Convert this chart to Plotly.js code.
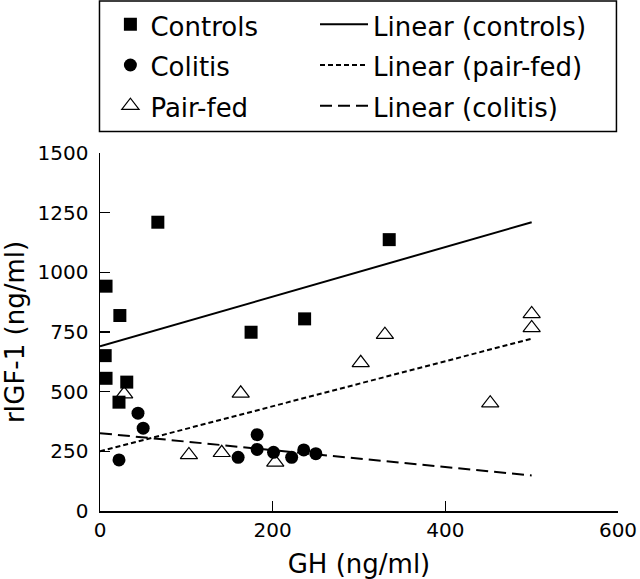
<!DOCTYPE html>
<html>
<head>
<meta charset="utf-8">
<script src="https://cdn.plot.ly/plotly-3.0.1.min.js"></script>
<style>html,body{margin:0;padding:0;background:#fff;}#chart{width:640px;height:579px;}</style>
</head>
<body>
<div id="chart"></div>
<script>
// Data
const controlsGH  = [7, 67, 23, 175, 237, 335, 6, 7, 31, 22];
const controlsIGF = [942, 1210, 819, 749, 805, 1137, 651, 556, 540, 456];

const colitisGH  = [22, 44, 50, 160, 182, 182, 201, 222, 236, 250];
const colitisIGF = [214, 410, 347, 225, 320, 258, 246, 225, 256, 240];

const pairfedGH  = [28, 103, 141, 163, 203, 302, 330, 452, 500, 500];
const pairfedIGF = [490, 235, 244, 493, 204, 621, 739, 452, 826, 767];

// Linear trend lines (end points)
const trendGH = [0, 500];
const trendControls = [690, 1210];
const trendPairfed  = [250, 722];
const trendColitis  = [326, 149];

const xTicks = [0, 200, 400, 600];
const yTicks = [0, 250, 500, 750, 1000, 1250, 1500];

const FONT = 'DejaVu Sans, Liberation Sans, Arial, sans-serif';
const lg = t => '<span style="font-size:26px">' + t + '</span>';

const traces = [
  {x: trendGH, y: trendControls, mode: 'lines', name: lg('Linear (controls)'), legend: 'legend2', legendrank: 1,
   line: {color: '#000', width: 2}},
  {x: trendGH, y: trendPairfed, mode: 'lines', name: lg('Linear (pair-fed)'), legend: 'legend2', legendrank: 2,
   line: {color: '#000', width: 2, dash: '5px,3px'}},
  {x: trendGH, y: trendColitis, mode: 'lines', name: lg('Linear (colitis)'), legend: 'legend2', legendrank: 3,
   line: {color: '#000', width: 2, dash: '12px,6px'}},
  {x: controlsGH, y: controlsIGF, mode: 'markers', name: lg('Controls'), legend: 'legend', legendrank: 1,
   marker: {symbol: 'square', size: 13, color: '#000'}},
  {x: colitisGH, y: colitisIGF, mode: 'markers', name: lg('Colitis'), legend: 'legend', legendrank: 2,
   marker: {symbol: 'circle', size: 13, color: '#000'}},
  {x: pairfedGH, y: pairfedIGF, mode: 'markers', name: lg('Pair-fed'), legend: 'legend', legendrank: 3,
   marker: {symbol: 'triangle-up-open', size: 15, color: '#000', line: {width: 1.2, color: '#000'}}}
];

const legendCommon = {
  orientation: 'v', xanchor: 'left', y: 1.4303, yanchor: 'top',
  font: {family: FONT, size: 29, color: '#000'},
  bgcolor: 'rgba(0,0,0,0)', borderwidth: 0, traceorder: 'normal', tracegroupgap: 0
};

const layout = {
  width: 640, height: 579,
  margin: {l: 100, r: 22, t: 153, b: 68, autoexpand: false},
  paper_bgcolor: '#fff', plot_bgcolor: '#fff',
  font: {family: FONT, color: '#000', size: 20},
  showlegend: true,
  legend: Object.assign({}, legendCommon, {x: (110.4 - 100) / 518}),
  legend2: Object.assign({}, legendCommon, {x: (315 - 100) / 518, itemwidth: 48}),
  shapes: [
    {type: 'rect', xref: 'paper', yref: 'paper', x0: -0.001, x1: 0.997,
     y0: 1 + (153 - 131.5) / 358, y1: 1 + (153 - 1) / 358,
     line: {color: '#000', width: 1.5}, fillcolor: 'rgba(0,0,0,0)'}
  ],
  xaxis: {
    range: [0, 600], tickvals: xTicks, ticktext: xTicks.map(String),
    showgrid: false, zeroline: false, showline: true, linecolor: '#000', linewidth: 1.5,
    ticks: 'inside', ticklen: 10, tickwidth: 1.5, tickcolor: '#000',
    tickfont: {family: FONT, size: 20, color: '#000'},
    title: {text: 'GH (ng/ml)', font: {family: FONT, size: 26, color: '#000'}, standoff: 30},
    automargin: false, fixedrange: true
  },
  yaxis: {
    range: [0, 1500], tickvals: yTicks, ticktext: yTicks.map(String),
    showgrid: false, zeroline: false, showline: true, linecolor: '#000', linewidth: 1.5,
    ticks: 'inside', ticklen: 10, tickwidth: 1.5, tickcolor: '#000',
    tickfont: {family: FONT, size: 20, color: '#000'},
    ticklabelstandoff: 6,
    title: {text: 'rIGF-1 (ng/ml)', font: {family: FONT, size: 26, color: '#000'}, standoff: 23},
    automargin: false, fixedrange: true
  }
};

Plotly.newPlot('chart', traces, layout, {displayModeBar: false, staticPlot: true});
</script>
</body>
</html>
